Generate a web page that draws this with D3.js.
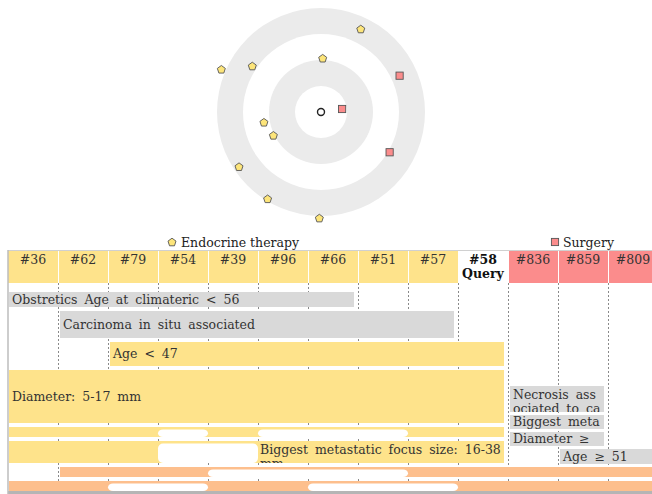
<!DOCTYPE html>
<html>
<head>
<meta charset="utf-8">
<script src="https://cdn.jsdelivr.net/npm/d3@7"></script>
<style>
html,body{margin:0;padding:0;background:#fff;}
svg{display:block;}
text{font-family:"DejaVu Serif",serif;}
</style>
</head>
<body>
<svg id="chart" width="652" height="494"></svg>
<script>
// ---------------- DATA ----------------
// cases shown as columns (left to right)
const caseIds    = ["36","62","79","54","39","96","66","51","57","58","836","859","809"];
const caseGroups = ["endo","endo","endo","endo","endo","endo","endo","endo","endo","query","surg","surg","surg"];
// radial plot: distance to the query (ring units) and angle (degrees, clockwise from top)
const caseDistance = [4.17, 4.08, 3.92, 3.79, 3.54, 3.18, 2.23, 2.07, 2.04, 0, 0.82, 3.06, 3.33];
const caseAngle    = [293.2, 180.9, 211.6, 236.3, 25.6, 303.8, 259.8, 1.8, 243.9, 0, 81.9, 120.4, 65.2];
const ringTicks = [1, 2, 3, 4];

// rules stacked from the top (endocrine side)
const topRuleLabels  = ["Obstretics Age at climateric < 56", "Carcinoma in situ associated", "Age < 47", "Diameter: 5-17 mm", "", "Biggest metastatic focus size: 16-38 mm"];
const topRuleKinds   = ["neutral", "neutral", "endo", "endo", "endo", "endo"];
const topRuleWeights = [15, 27, 24, 53, 10, 22];
const topRuleCases   = [
  ["36","62","79","54","39","96","66"],
  ["62","79","54","39","96","66","51","57"],
  ["79","54","39","96","66","51","57","58"],
  ["36","62","79","54","39","96","66","51","57","58"],
  ["36","62","79","39","57","58"],
  ["36","62","79","96","66","51","57","58"]
];
const topRuleSpan = [null, null, null, null, ["36","58"], ["36","58"]];

// rules spanning both sides (bottom)
const sharedRuleLabels  = ["", ""];
const sharedRuleWeights = [10, 10];
const sharedRuleCases   = [
  ["62","79","54","57","58","836","859","809"],
  ["36","62","39","96","58","836","859","809"]
];
const sharedRuleSpan = [["62","809"], ["36","809"]];

// rules stacked upward above the shared rows (surgery side)
const surgRuleLabels  = ["Age ≥ 51", "Diameter ≥", "Biggest meta", "Necrosis associated to carcinoma"];
const surgRuleWeights = [15, 14, 14, 26];
const surgRuleCases   = [
  ["859","809"],
  ["836","859"],
  ["836","859"],
  ["836","859"]
];

const legendLabels = ["Endocrine therapy", "Surgery"];

// ---------------- STYLE ----------------
const colors = {
  endo: "#fee38b", surg: "#fb8c8c", query: "#ffffff",
  neutral: "#d9d9d9", shared: "#fdbf8d", ring: "#ebebeb",
  pent: "#fde57a", sq: "#fb8c8c", text: "#333"
};
const FS = 12.5;
const WS = 3;

const svg = d3.select("#chart");

// ---------------- RADIAL PLOT ----------------
const cx = 321, cy = 112;
const r = d3.scaleLinear().domain([0, 4]).range([0, 104]);
const ringG = svg.append("g");
ringTicks.slice().reverse().forEach((t) => {
  ringG.append("circle").attr("cx", cx).attr("cy", cy).attr("r", r(t))
    .attr("fill", (t % 2 === 0) ? colors.ring : "#fff");
});

function pentagon(size) {
  const pts = d3.range(5).map(k => {
    const a = -Math.PI / 2 + k * 2 * Math.PI / 5;
    return [size * Math.cos(a), size * Math.sin(a)];
  });
  return "M" + pts.map(p => p[0].toFixed(2) + "," + p[1].toFixed(2)).join("L") + "Z";
}
function drawMarker(g, group, x, y) {
  if (group === "endo") {
    g.append("path").attr("d", pentagon(4.2)).attr("transform", `translate(${x},${y + 0.4})`)
      .attr("fill", colors.pent).attr("stroke", "#555").attr("stroke-width", 0.9);
  } else if (group === "surg") {
    g.append("rect").attr("x", x - 3.6).attr("y", y - 3.6).attr("width", 7.2).attr("height", 7.2)
      .attr("fill", colors.sq).attr("stroke", "#555").attr("stroke-width", 0.9);
  } else {
    g.append("circle").attr("cx", x).attr("cy", y).attr("r", 3.5)
      .attr("fill", "#fff").attr("stroke", "#222").attr("stroke-width", 1.4);
  }
}
const ptG = svg.append("g");
caseIds.forEach((id, i) => {
  const a = caseAngle[i] * Math.PI / 180;
  const px = cx + r(caseDistance[i]) * Math.sin(a);
  const py = cy - r(caseDistance[i]) * Math.cos(a);
  drawMarker(ptG, caseGroups[i], px, py);
});

// ---------------- LEGEND ----------------
const legG = svg.append("g");
drawMarker(legG, "endo", 172, 242);
legG.append("text").attr("x", 181).attr("y", 246.5).attr("font-size", FS).attr("fill", "#222").text(legendLabels[0]);
drawMarker(legG, "surg", 555, 242);
legG.append("text").attr("x", 563).attr("y", 246.5).attr("font-size", FS).attr("fill", "#222").text(legendLabels[1]);

// ---------------- COLUMNS ----------------
const x = d3.scaleBand().domain(caseIds).range([8, 8 + 50 * caseIds.length]).padding(0);
const bw = x.bandwidth();
const headTop = 250, headBot = 283, bodyBot = 491;

// dashed column guides
const guideG = svg.append("g");
caseIds.slice(1).forEach(id => {
  guideG.append("line").attr("x1", x(id) + 0.5).attr("x2", x(id) + 0.5)
    .attr("y1", headBot).attr("y2", bodyBot)
    .attr("stroke", "#8a8a8a").attr("stroke-width", 1).attr("stroke-dasharray", "2,2");
});

// header
const headG = svg.append("g");
caseIds.forEach((id, i) => {
  headG.append("rect").attr("x", x(id)).attr("y", headTop).attr("width", bw).attr("height", headBot - headTop)
    .attr("fill", colors[caseGroups[i]]);
});
caseIds.slice(1).forEach(id => {
  headG.append("line").attr("x1", x(id) + 0.5).attr("x2", x(id) + 0.5).attr("y1", headTop).attr("y2", headBot)
    .attr("stroke", "#fff").attr("stroke-width", 1);
});
headG.append("line").attr("x1", 8).attr("x2", 652).attr("y1", headTop + 0.5).attr("y2", headTop + 0.5)
  .attr("stroke", "#d0d0d0").attr("stroke-width", 1);
caseIds.forEach((id, i) => {
  const t = headG.append("text").attr("x", x(id) + bw / 2).attr("y", 264).attr("text-anchor", "middle")
    .attr("font-size", FS).attr("fill", colors.text).text("#" + id);
  if (caseGroups[i] === "query") {
    t.attr("font-weight", "bold").attr("fill", "#111");
    headG.append("text").attr("x", x(id) + bw / 2).attr("y", 278).attr("text-anchor", "middle")
      .attr("font-size", FS).attr("font-weight", "bold").attr("fill", "#111").text("Query");
  }
});

// ---------------- RULE BARS ----------------
const h = d3.scaleLinear().domain([0, 1]).range([0, 1]);
const barG = svg.append("g");
let clipN = 0;

function runs(cases, span) {
  const idx = caseIds.map((id, i) => cases.includes(id) ? i : -1).filter(v => v >= 0);
  const s0 = span ? caseIds.indexOf(span[0]) : idx[0];
  const s1 = span ? caseIds.indexOf(span[1]) : idx[idx.length - 1];
  const present = [], absent = [];
  let cur = null, curP = null;
  for (let i = s0; i <= s1; i++) {
    const p = cases.includes(caseIds[i]);
    if (cur && curP === p) cur[1] = i;
    else { cur = [i, i]; curP = p; (p ? present : absent).push(cur); }
  }
  return { s0, s1, present, absent };
}
function colLeft(i) { return x(caseIds[i]) + (i === 0 ? 1 : 2); }
function colRight(i) { return x(caseIds[i]) + bw - 4; }

function wrapText(g, label, x0, y0, x1, hh) {
  if (!label || hh < 11) return;
  const id = "clip" + (clipN++);
  const w = Math.min(x1, 652) - x0;
  svg.append("clipPath").attr("id", id).append("rect")
    .attr("x", x0).attr("y", y0).attr("width", w).attr("height", hh);
  const t = g.append("text").attr("clip-path", `url(#${id})`)
    .attr("font-size", FS).attr("fill", colors.text).attr("word-spacing", WS);
  const tx = x0 + 3;
  const maxW = x1 - tx - 1;
  const probe = t.append("tspan");
  const lines = [];
  let line = "";
  for (const ch of label) {
    const test = line + ch;
    probe.text(test.trimEnd());
    if (probe.node().getComputedTextLength() > maxW && line.length) {
      lines.push(line.trimEnd()); line = (ch === " ") ? "" : ch;
    } else line = test;
  }
  if (line) lines.push(line.trimEnd());
  probe.remove();
  const lh = 14;
  const base = (lines.length === 1) ? y0 + hh / 2 + 4.3 : y0 + 12.5;
  lines.forEach((l, k) => {
    const b = base + k * lh;
    if (b - 9 > y0 + hh) return; // fully hidden line
    t.append("tspan").attr("x", tx).attr("y", b).text(l);
  });
}

function drawRule(label, kind, cases, span, y0, hh) {
  const R = runs(cases, span);
  const fill = colors[kind];
  const g = barG.append("g");
  const bx0 = colLeft(R.s0), bx1 = colRight(R.s1);
  g.append("rect").attr("x", bx0).attr("y", y0).attr("width", bx1 - bx0).attr("height", hh).attr("fill", fill);
  R.absent.forEach(a => {
    const ax0 = x(caseIds[a[0]]), ax1 = x(caseIds[a[1]]) + bw;
    g.append("rect").attr("x", ax0).attr("y", y0 + 2.5).attr("width", ax1 - ax0).attr("height", hh - 2.5)
      .attr("rx", 5).attr("fill", "#fff");
  });
  // label in the widest present run
  let best = R.present[0];
  R.present.forEach(p => { if (p[1] - p[0] > best[1] - best[0]) best = p; });
  const lx0 = (best[0] === R.s0) ? bx0 : x(caseIds[best[0]]) - 1;
  const lx1 = (best[1] === R.s1) ? bx1 : x(caseIds[best[1]]) + bw;
  wrapText(g, label, lx0, y0, lx1, hh);
}

// top-down stack
let yCur = 292;
const gapTop = 4;
topRuleLabels.forEach((lab, i) => {
  const hh = h(topRuleWeights[i]);
  drawRule(lab, topRuleKinds[i], topRuleCases[i], topRuleSpan[i], yCur, hh);
  yCur += hh + gapTop;
});
// shared rows
const sharedTop = yCur;
sharedRuleLabels.forEach((lab, i) => {
  const hh = h(sharedRuleWeights[i]);
  drawRule(lab, "shared", sharedRuleCases[i], sharedRuleSpan[i], yCur, hh);
  yCur += hh + gapTop;
});
// bottom-up stack on surgery side
let yUp = sharedTop - 3;
surgRuleLabels.forEach((lab, i) => {
  const hh = h(surgRuleWeights[i]);
  yUp -= hh;
  drawRule(lab, "neutral", surgRuleCases[i], null, yUp, hh);
  yUp -= 3;
});

// frame
svg.append("line").attr("x1", 8).attr("x2", 652).attr("y1", 492.5).attr("y2", 492.5)
  .attr("stroke", "#b5b5b5").attr("stroke-width", 3);
svg.append("line").attr("x1", 8).attr("x2", 8).attr("y1", headTop).attr("y2", 494)
  .attr("stroke", "#bdbdbd").attr("stroke-width", 1.5);
</script>
</body>
</html>
